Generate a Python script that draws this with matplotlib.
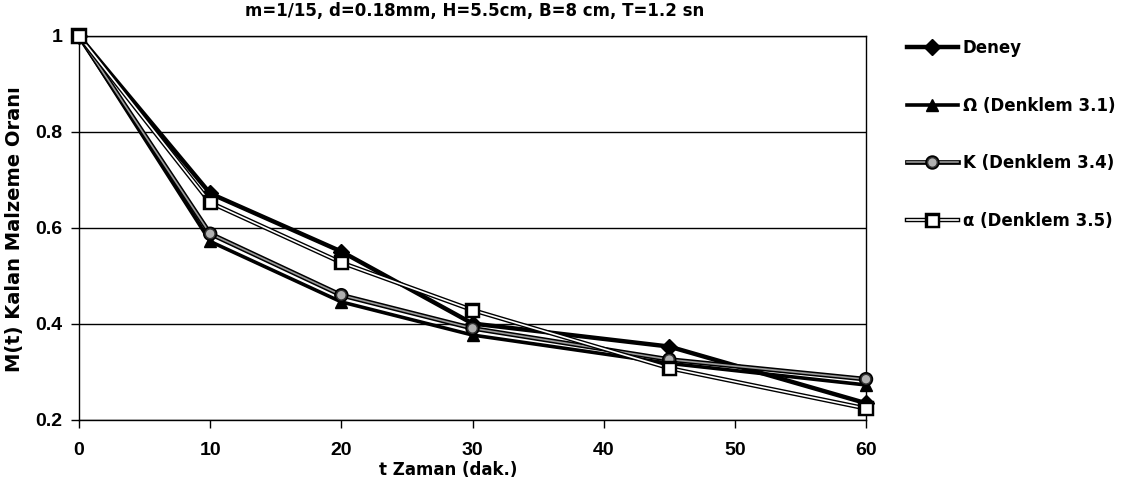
import matplotlib
matplotlib.use("Agg")
import matplotlib.pyplot as plt
import matplotlib.patheffects as pe

# ---- data ----
t = [0, 10, 20, 30, 45, 60]
deney = [1.0, 0.672, 0.551, 0.401, 0.353, 0.235]
omega = [1.0, 0.572, 0.446, 0.377, 0.318, 0.273]
kappa = [1.0, 0.588, 0.460, 0.391, 0.326, 0.285]
alpha = [1.0, 0.653, 0.528, 0.429, 0.308, 0.224]
labels = ["Deney", "Ω (Denklem 3.1)", "K (Denklem 3.4)", "α (Denklem 3.5)"]
title = "m=1/15, d=0.18mm, H=5.5cm, B=8 cm, T=1.2 sn"
xlabel = "t Zaman (dak.)"
ylabel = "M(t) Kalan Malzeme Oranı"
xticks = [0, 10, 20, 30, 40, 50, 60]
yticks = [0.2, 0.4, 0.6, 0.8, 1.0]
yticklabels = ["0.2", "0.4", "0.6", "0.8", "1"]

plt.rcParams['font.family'] = ['DejaVu Sans']
WIDE = ['DejaVu Sans']

W, H = 1128, 487
fig = plt.figure(figsize=(W / 100, H / 100), dpi=100)
ax = fig.add_axes([79 / W, 1 - 420 / H, (866 - 79) / W, (420 - 36) / H])
ax.set_facecolor('none')

ax.plot(t, deney, color='black', lw=3.2, marker='D', ms=8, mfc='black', mec='black',
        label=labels[0], zorder=3, clip_on=False)
ax.plot(t, omega, color='black', lw=2.6, marker='^', ms=8, mfc='black', mec='black',
        label=labels[1], zorder=4, clip_on=False)
ax.plot(t, kappa, color='#9a9a9a', lw=1.2, marker='o', ms=7, mfc='#b0b0b0', mec='#333333',
        label=labels[2], zorder=5, clip_on=False,
        path_effects=[pe.Stroke(linewidth=3.4, foreground='black'), pe.Normal()])
ax.plot(t, alpha, color='white', lw=1.2, marker='s', ms=8, mfc='white', mec='black', mew=1.0,
        label=labels[3], zorder=6, clip_on=False,
        path_effects=[pe.Stroke(linewidth=3.2, foreground='black'), pe.Normal()])

ax.set_xlim(0, 60)
ax.set_ylim(0.2, 1.0)
ax.set_xticks(xticks)
ax.set_yticks(yticks)
ax.set_yticklabels(yticklabels)
ax.tick_params(axis='both', labelsize=14, labelfontfamily='Liberation Sans')
ax.tick_params(axis='x', direction='out', length=6, width=1, pad=10)
ax.tick_params(axis='y', direction='out', length=6, width=1, pad=6)
for lab in ax.get_xticklabels() + ax.get_yticklabels():
    lab.set_fontweight('bold')
ax.yaxis.grid(True, color='black', lw=1.0)
ax.set_axisbelow(True)
for s in ax.spines.values():
    s.set_color('black')
    s.set_linewidth(1.0)

fig.text(475 / W, 1 - 11 / H, title, ha='center', va='center', fontsize=12,
         fontweight='bold', family=WIDE)
fig.text(448 / W, 1 - 470 / H, xlabel, ha='center', va='center', fontsize=12,
         fontweight='bold', family=WIDE)
fig.text(15 / W, 1 - 229 / H, ylabel, ha='center', va='center', rotation=90,
         fontsize=14, fontweight='bold', family=WIDE)

leg = fig.legend(loc='upper left', bbox_to_anchor=(907 / W, 1 - 39 / H), frameon=False,
                 prop={'family': WIDE, 'weight': 'bold', 'size': 12},
                 handlelength=3.05, handletextpad=0.3, labelspacing=2.38,
                 borderaxespad=0, borderpad=0)

fig.savefig('out.png', dpi=100)
